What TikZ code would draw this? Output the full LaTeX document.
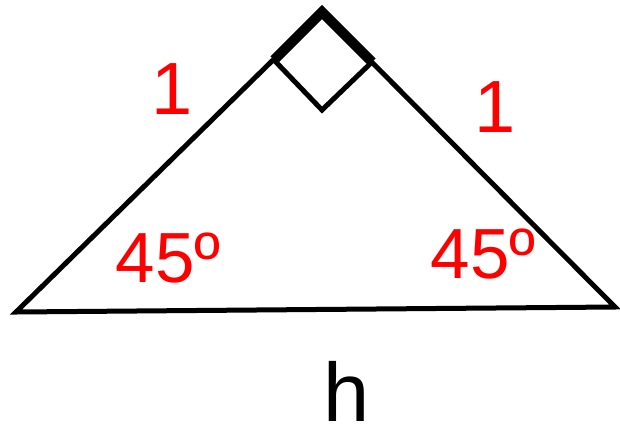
\documentclass[tikz,border=0pt]{standalone}
\usepackage{fontspec}
\setmainfont{Liberation Sans}
\begin{document}
\begin{tikzpicture}[x=1pt,y=-1pt,
  edge/.style={line width=5pt,line join=miter,black},
  thickedge/.style={line width=10pt,line cap=butt,black},
  lbl/.style={text=red,font=\fontsize{74}{74}\selectfont,anchor=base,inner sep=0pt},
  lblang/.style={text=red,font=\fontsize{71}{71}\selectfont,anchor=base,inner sep=0pt}]
\useasboundingbox (0,0) rectangle (620,426);
\coordinate (L) at (16,312);
\coordinate (A) at (322,12);
\coordinate (R) at (615,307);
\coordinate (SL) at (274,60);
\coordinate (SB) at (322,110);
\coordinate (SR) at (372,62);
\draw[edge] (L) -- (A) -- (R) -- cycle;
\draw[thickedge] (SL) -- (A) -- (SR);
\draw[edge] (SL) -- (SB) -- (SR);
\node[lbl] (one1) at (172,114) {1};
\node[lbl] (one2) at (495,132) {1};
\node[lblang] (a1) at (168,282) {45º};
\node[lblang] (a2) at (483,278) {45º};
\node[anchor=base,inner sep=0pt,font=\fontsize{83}{83}\selectfont] (h) at (347,421) {h};
\end{tikzpicture}
\end{document}
